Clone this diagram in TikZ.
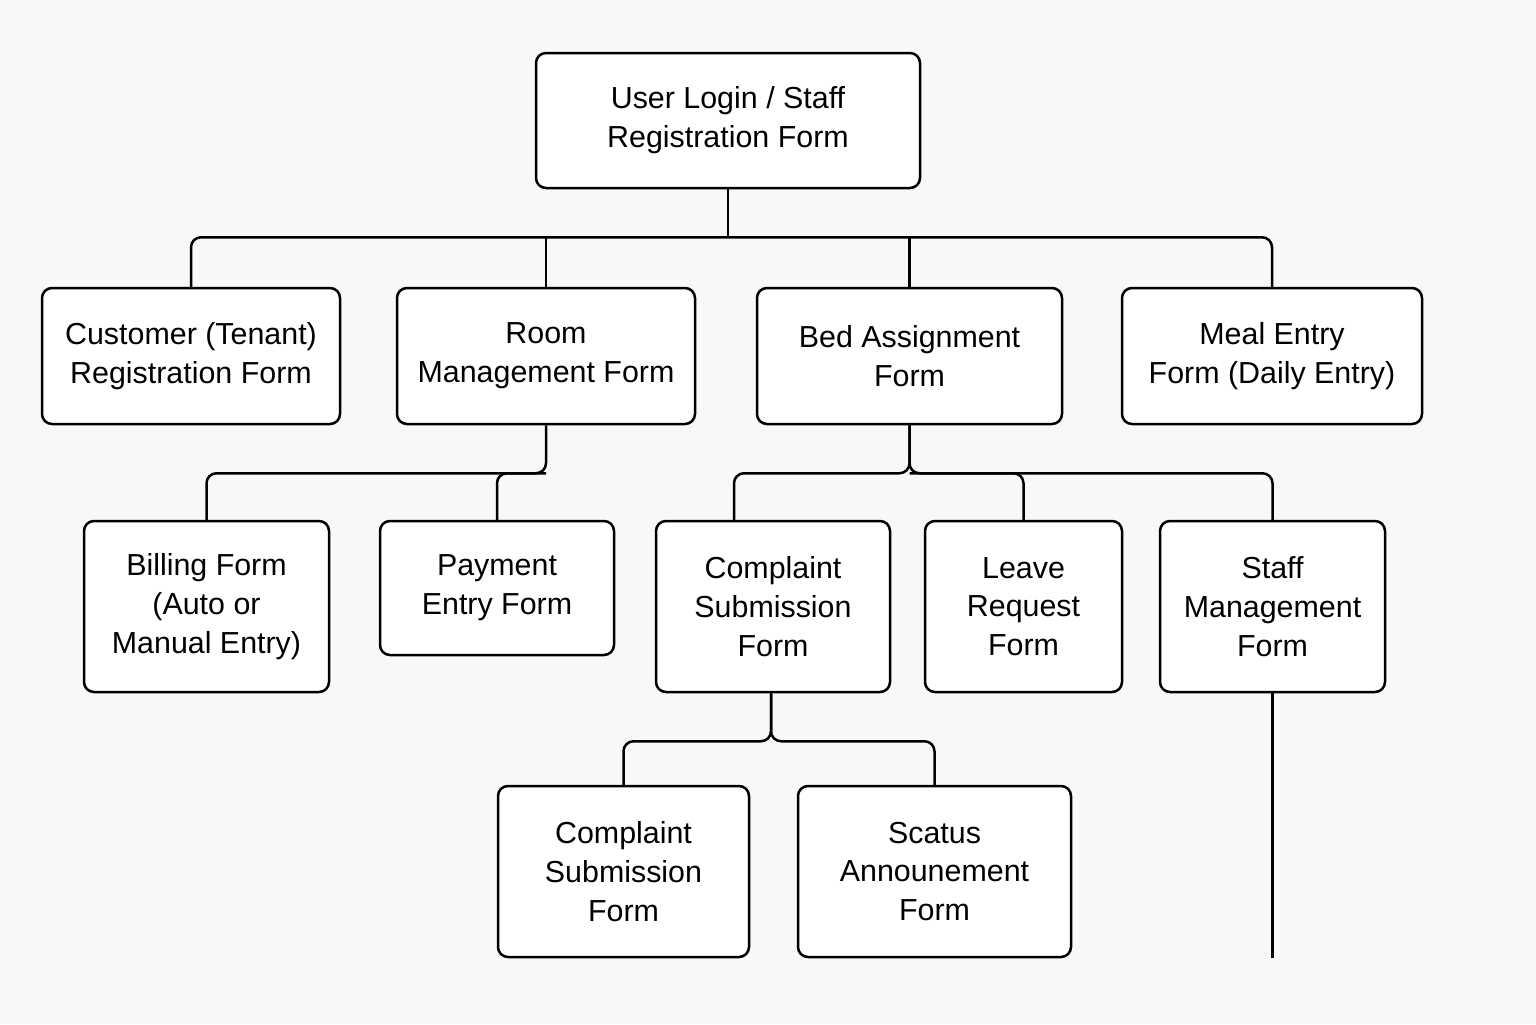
\documentclass[tikz,border=0pt]{standalone}
\usepackage{fontspec}
\setmainfont{Liberation Sans}
\usetikzlibrary{calc}
\definecolor{bgc}{HTML}{F8F8F8}
\tikzset{
  formbox/.style={draw=black, fill=white, line width=1.25pt, rounded corners=5pt,
    align=center, inner sep=0pt, font=\fontsize{15.2}{19.4}\selectfont},
  conn/.style={draw=black, line width=1.25pt, rounded corners=5pt},
}
\begin{document}
\begin{tikzpicture}[x=0.5pt, y=-0.5pt]
\fill[bgc] (0,0) rectangle (1536,1024);
\useasboundingbox (0,0) rectangle (1536,1024);
% nodes
\node[formbox, minimum width=192pt, minimum height=67.5pt] (top) at (728,120.5) {User Login / Staff\\Registration Form};
\node[formbox, minimum width=149pt, minimum height=68pt] (cust) at (191,356) {Customer (Tenant)\\Registration Form};
\node[formbox, minimum width=149pt, minimum height=68pt] (room) at (546,356) {Room\\Management Form};
\node[formbox, minimum width=152.5pt, minimum height=68pt] (bed) at (909.5,356) {Bed Assignment\\Form};
\node[formbox, minimum width=150pt, minimum height=68pt] (meal) at (1272,356) {Meal Entry\\Form (Daily Entry)};
\node[formbox, minimum width=122.5pt, minimum height=85.5pt] (bill) at (206.5,606.5) {Billing Form\\(Auto or\\Manual Entry)};
\node[formbox, minimum width=117pt, minimum height=67pt] (pay) at (497,588) {Payment\\Entry Form};
\node[formbox, minimum width=117pt, minimum height=85.5pt] (comp) at (773,606.5) {Complaint\\Submission\\Form};
\node[formbox, minimum width=98.5pt, minimum height=85.5pt] (leave) at (1023.5,606.5) {Leave\\Request\\Form};
\node[formbox, minimum width=112.5pt, minimum height=85.5pt] (staff) at (1272.5,606.5) {Staff\\Management\\Form};
\node[formbox, minimum width=125.5pt, minimum height=85.5pt] (csub) at (623.5,871.5) {Complaint\\Submission\\Form};
\node[formbox, minimum width=136.5pt, minimum height=85.5pt] (scat) at (934.5,871.5) {Scatus\\Announement\\Form};
% coordinates
\coordinate (bus1) at ($(top.south)+(0,48)$);
\coordinate (rb) at ($(room.south)+(0,48)$);
\coordinate (bb) at ($(bed.south)+(0,48)$);
\coordinate (cb) at ($(comp.south)+(-2,48)$);
\coordinate (cin) at ($(comp.north)+(-39,0)$);
\coordinate (tail) at ($(staff.south)+(0,265)$);
% connectors
\draw[conn] (top.south) -- (bus1);
\draw[conn] (cust.north) |- (bus1) -| (meal.north);
\draw[conn] (room.north) -- (room.north |- bus1);
\draw[conn] (bed.north) -- (bed.north |- bus1);
\draw[conn] (room.south) -- (rb) -| (bill.north);
\draw[conn] (rb) -| (pay.north);
\draw[conn] (bed.south) -- (bb) -| (cin);
\draw[conn] (bed.south) -- (bb) -| (staff.north);
\draw[conn] (bb) -| (leave.north);
\draw[conn] (staff.south) -- (tail);
\draw[conn] (comp.south -| cb) -- (cb) -| (csub.north);
\draw[conn] (comp.south -| cb) -- (cb) -| (scat.north);
\end{tikzpicture}
\end{document}
